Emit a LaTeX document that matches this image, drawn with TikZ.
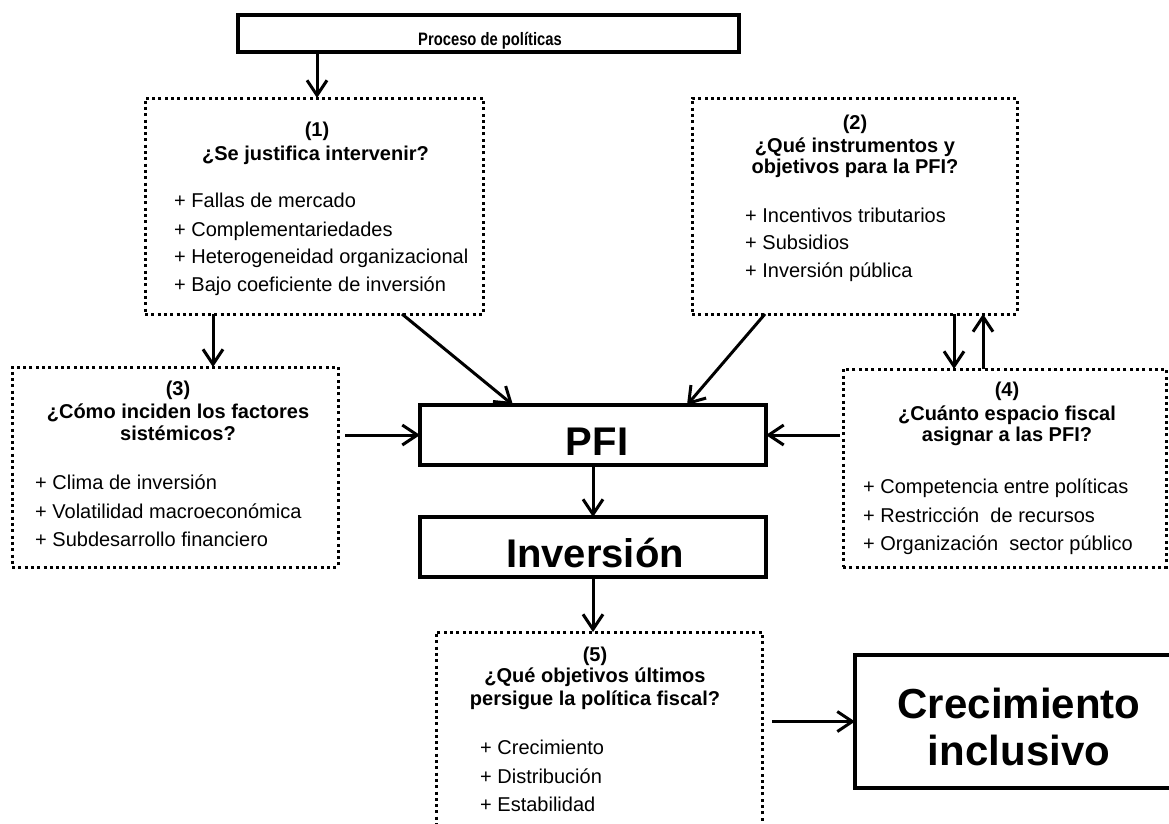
\documentclass[tikz,border=0pt]{standalone}
\usepackage{fontspec}
\setmainfont{Liberation Sans}
\newfontfamily\narrowfont{Liberation Sans}[FakeStretch=0.82]
\usetikzlibrary{arrows.meta}
\tikzset{
 solidbox/.style={draw, line width=3.2pt, inner sep=0pt, outer sep=0pt},
 dotbox/.style={draw, line width=3pt, dash pattern=on 3pt off 3.3pt, inner sep=0pt, outer sep=0pt},
 arr/.style={line width=3pt, -{Straight Barb[length=15pt,width=20pt]}},
 hd/.style={inner sep=0pt, anchor=base, font=\fontsize{20}{22}\selectfont\bfseries},
 itm/.style={inner sep=0pt, anchor=base west, font=\fontsize{20}{22}\selectfont},
 big/.style={inner sep=0pt, anchor=base, font=\fontsize{40}{44}\selectfont\bfseries},
 huge/.style={inner sep=0pt, anchor=base, font=\fontsize{42}{46}\selectfont\bfseries},
}
\begin{document}
\begin{tikzpicture}[x=1pt,y=-1pt]
\useasboundingbox (0,0) rectangle (1169,823);
\fill[white] (0,0) rectangle (1169,823);
\clip (0,0) rectangle (1169,823);
% boxes
\node[solidbox, minimum width=501pt, minimum height=37pt] (top) at (488.5,33.5) {};
\node[dotbox, minimum width=338pt, minimum height=216pt] (b1) at (314,206) {};
\node[dotbox, minimum width=325pt, minimum height=216pt] (b2) at (854.5,206) {};
\node[dotbox, minimum width=326pt, minimum height=200pt] (b3) at (175,467) {};
\node[dotbox, minimum width=323pt, minimum height=198pt] (b4) at (1004.5,468) {};
\node[solidbox, minimum width=346pt, minimum height=60pt] (pfi) at (593,435) {};
\node[solidbox, minimum width=346pt, minimum height=60pt] (inv) at (593,547) {};
\node[dotbox, minimum width=326pt, minimum height=228pt] (b5) at (599,746) {};
\node[solidbox, line width=3.6pt, minimum width=335pt, minimum height=133pt] (crec) at (1022.5,721.5) {};
% texts
\node[inner sep=0pt, anchor=base, font=\narrowfont\fontsize{18}{20}\selectfont\bfseries] (ttop) at (490,45) {Proceso de políticas};
\node[hd] (t1a) at (317,136) {(1)};
\node[hd] (t1b) at (315.5,160) {¿Se justifica intervenir?};
\node[itm] (i1a) at (174,207) {+ Fallas de mercado};
\node[itm] (i1b) at (174,236) {+ Complementariedades};
\node[itm] (i1c) at (174,263) {+ Heterogeneidad organizacional};
\node[itm] (i1d) at (174,291) {+ Bajo coeficiente de inversión};
\node[hd] (t2a) at (855,129) {(2)};
\node[hd] (t2b) at (855,152) {¿Qué instrumentos y};
\node[hd] (t2c) at (855,173) {objetivos para la PFI?};
\node[itm] (i2a) at (745,222) {+ Incentivos tributarios};
\node[itm] (i2b) at (745,249) {+ Subsidios};
\node[itm] (i2c) at (745,277) {+ Inversión pública};
\node[hd] (t3a) at (178,395) {(3)};
\node[hd] (t3b) at (178,418) {¿Cómo inciden los factores};
\node[hd] (t3c) at (178,440) {sistémicos?};
\node[itm] (i3a) at (35,489) {+ Clima de inversión};
\node[itm] (i3b) at (35,518) {+ Volatilidad macroeconómica};
\node[itm] (i3c) at (35,546) {+ Subdesarrollo financiero};
\node[hd] (t4a) at (1007,396) {(4)};
\node[hd] (t4b) at (1007,420) {¿Cuánto espacio fiscal};
\node[hd] (t4c) at (1007,441) {asignar a las PFI?};
\node[itm] (i4a) at (863,493) {+ Competencia entre políticas};
\node[itm] (i4b) at (863,522) {+ Restricción\ \ de recursos};
\node[itm] (i4c) at (863,550) {+ Organización\ \ sector público};
\node[hd] (t5a) at (595,661) {(5)};
\node[hd] (t5b) at (595,682) {¿Qué objetivos últimos};
\node[hd] (t5c) at (595,705) {persigue la política fiscal?};
\node[itm] (i5a) at (480,754) {+ Crecimiento};
\node[itm] (i5b) at (480,783) {+ Distribución};
\node[itm] (i5c) at (480,811) {+ Estabilidad};
\node[big] (tpfi) at (597,455) {PFI};
\node[big] (tinv) at (595,567) {Inversión};
\node[huge] (tc1) at (1019,718) {Crecimiento};
\node[huge] (tc2) at (1019,765) {inclusivo};
% connectors
\draw[arr] ([xshift=-171.5pt]top.south) -- ([xshift=3pt]b1.north);
\draw[arr] ([xshift=-101pt]b1.south) -- ([xshift=38pt]b3.north);
\draw[arr] ([xshift=88pt]b1.south) -- ([xshift=-80pt]pfi.north);
\draw[arr] ([xshift=-89.5pt]b2.south) -- ([xshift=94pt]pfi.north);
\draw[arr] ([xshift=99.5pt]b2.south) -- ([xshift=-50.5pt]b4.north);
\draw[arr] ([xshift=-21.5pt]b4.north) -- ([xshift=128.5pt]b2.south);
\draw[arr] ([xshift=7pt]b3.east |- pfi.west) -- (pfi.west);
\draw[arr] ([xshift=-3pt]b4.west |- pfi.east) -- (pfi.east);
\draw[arr] (pfi.south) -- (inv.north);
\draw[arr] (inv.south) -- (inv.south |- b5.north);
\draw[arr] ([xshift=10pt]b5.east |- crec.west) -- (crec.west);
\end{tikzpicture}
\end{document}
